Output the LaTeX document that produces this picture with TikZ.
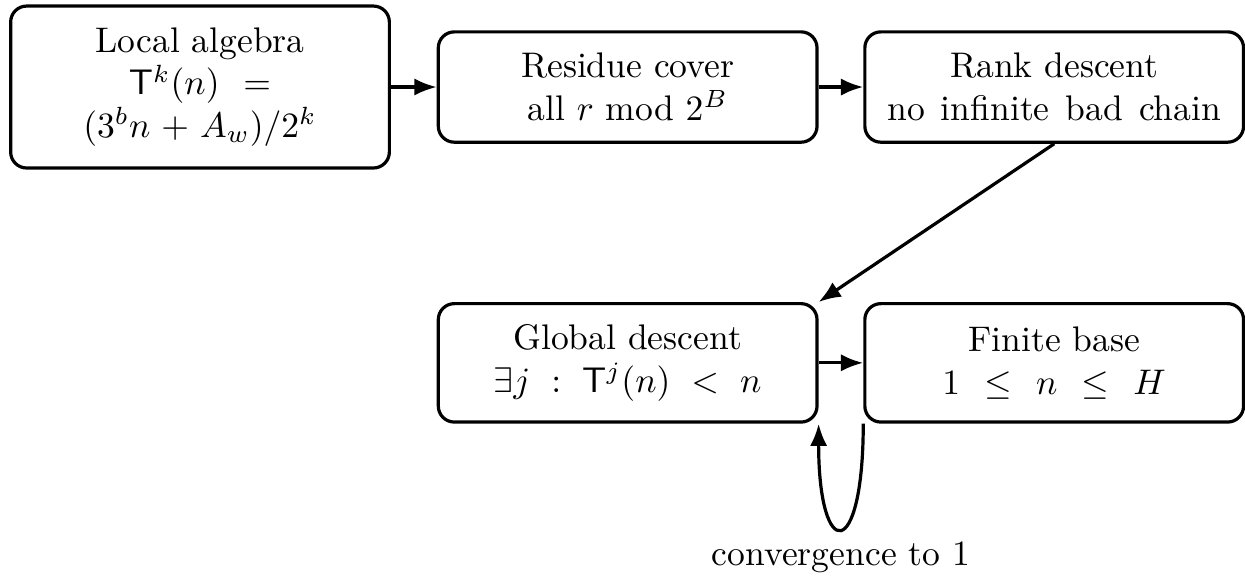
\documentclass[tikz,border=0pt]{standalone}
\usepackage{tikz}
\usepackage{amsmath}
\usetikzlibrary{arrows.meta}

\begin{document}
\begin{tikzpicture}[box/.style={draw,line width=0.9pt,rounded corners=4.5pt,align=center,text width=3.39cm,inner sep=5pt},
  arr/.style={line width=0.9pt,-{Latex[length=2.2mm,width=1.7mm]}}]
\useasboundingbox (0,0) rectangle (12.3,5.7);
\node [box,minimum height=1.6cm] (local) at (1.976,4.84) {Local algebra\\ $\mathsf{T}^k(n) =$\\ $(3^bn+A_w)/2^k$};
\node [box,minimum height=1.09cm] (residue) at (6.201,4.84) {Residue cover\\ all $r$ mod $2^B$};
\node [box,minimum height=1.09cm] (rank) at (10.415,4.84) {Rank descent\\ no\hspace{0.45em}infinite\hspace{0.45em}bad\hspace{0.45em}chain};
\node [box,minimum height=1.17cm] (global) at (6.201,2.115) {Global descent\\ $\exists j \,:\, \mathsf{T}^j(n) \,<\, n$};
\node [box,minimum height=1.17cm] (finite) at (10.415,2.115) {Finite base\\ $1 \,\leq\, n \,\leq\, H$};
\draw [arr] (local) -- (residue) ;
\draw [arr] (residue) -- (rank) ;
\draw [arr] (rank.south) -- (global.north east) ;
\draw [arr] (global) -- (finite) ;
\draw [arr] (finite.south west) to [out=-90,in=-90,looseness=8] node [below] (conv) {convergence to 1} (global.south east) ;
\end{tikzpicture}
\end{document}
